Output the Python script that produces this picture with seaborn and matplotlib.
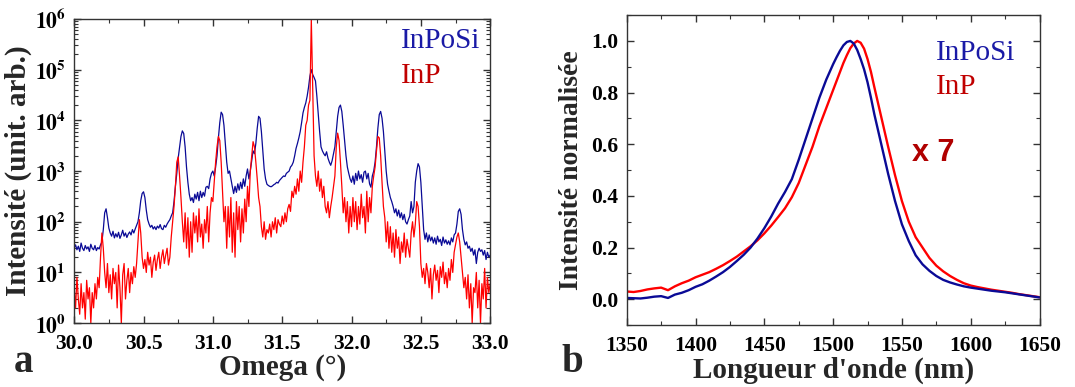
import numpy as np
import pandas as pd
import matplotlib
matplotlib.use("Agg")
import matplotlib.pyplot as plt
import seaborn as sns
from matplotlib.ticker import MultipleLocator, FixedLocator, FormatStrFormatter, LogLocator, NullFormatter

# ---------------- data : panel a (XRD omega scan, step 0.01 deg from 30.00 to 33.00) -------------
omega_start, omega_step = 30.0, 0.01

inposi_xrd = [
    30, 35, 28, 33, 26, 38, 30, 27, 34, 29,
    32, 26, 36, 30, 28, 34, 27, 31, 29, 35,
    40, 70, 150, 180, 120, 75, 60, 52, 65, 48,
    58, 50, 62, 47, 55, 68, 52, 60, 49, 57,
    63, 55, 70, 60, 72, 85, 100, 150, 260, 360,
    390, 300, 170, 110, 90, 78, 85, 72, 80, 70,
    82, 75, 88, 73, 70, 85, 78, 90, 100, 110,
    130, 150, 250, 500, 900, 1800, 3000, 4800, 6200, 5500,
    3000, 1200, 600, 350, 260, 300, 240, 350, 280, 380,
    260, 400, 300, 380, 320, 480, 500, 450, 700, 900,
    1000, 800, 1200, 2000, 4500, 9000, 14500, 13000, 8000, 3500,
    1500, 900, 1000, 700, 500, 360, 500, 380, 560, 420,
    600, 450, 700, 500, 800, 1100, 700, 1000, 1600, 2500,
    2200, 3500, 7000, 12000, 11000, 6000, 2500, 1100, 700, 550,
    520, 500, 490, 510, 540, 560, 600, 580, 650, 700,
    750, 800, 780, 900, 950, 1000, 1200, 1300, 1500, 2000,
    2800, 3500, 4500, 6000, 9000, 14000, 18000, 22000, 30000, 45000,
    75000, 100000, 80000, 70000, 60000, 30000, 13000, 6000, 3000, 2500,
    2200, 2000, 2400, 1800, 1500, 1300, 1600, 2200, 3000, 6000,
    12000, 18000, 20000, 15000, 8000, 4000, 2000, 1200, 900, 700,
    600, 800, 550, 900, 650, 1000, 700, 850, 600, 950,
    1000, 700, 900, 560, 480, 800, 1000, 1500, 3000, 7000,
    13000, 15000, 11000, 6000, 2500, 1000, 550, 400, 300, 250,
    200, 150, 180, 130, 170, 120, 150, 110, 140, 100,
    90, 110, 130, 250, 150, 200, 600, 1000, 1400, 1200,
    600, 200, 70, 45, 60, 40, 55, 42, 50, 38,
    48, 36, 52, 40, 45, 34, 50, 38, 44, 36,
    42, 35, 48, 40, 55, 60, 90, 160, 180, 140,
    70, 45, 35, 40, 30, 33, 26, 30, 22, 28,
    15, 25, 30, 26, 28, 22, 27, 18, 25, 20,
    22,
]

inp_xrd = [
    5, 2, 8, 3, 1.5, 6, 2, 4, 1.2, 7,
    3, 5, 1, 4, 2, 6, 3, 8, 5, 20,
    60, 30, 10, 5, 15, 4, 9, 3, 12, 6,
    10, 2, 14, 5, 1, 9, 15, 3, 7, 12,
    4, 10, 6, 13, 8, 15, 40, 110, 60, 20,
    12, 18, 10, 25, 14, 20, 8, 16, 22, 11,
    18, 25, 12, 20, 28, 15, 22, 30, 14, 20,
    50, 100, 200, 500, 1500, 1900, 800, 300, 100, 40,
    150, 30, 120, 20, 100, 25, 150, 60, 130, 40,
    180, 50, 90, 30, 110, 60, 200, 40, 150, 300,
    250, 600, 1500, 3000, 4800, 4000, 1500, 400, 100, 200,
    30, 200, 50, 300, 25, 150, 20, 250, 70, 200,
    40, 180, 60, 280, 100, 500, 200, 1000, 2000, 3800,
    3000, 1500, 700, 300, 200, 80, 50, 100, 45, 70,
    60, 90, 50, 100, 70, 120, 60, 110, 90, 80,
    130, 90, 150, 100, 180, 220, 160, 400, 300, 500,
    350, 700, 400, 1000, 600, 1500, 3000, 8000, 10000, 20000,
    25000, 1000000, 50000, 2000, 800, 500, 1000, 400, 700, 300,
    500, 200, 150, 250, 120, 200, 300, 500, 800, 3000,
    5600, 4000, 1500, 500, 150, 300, 100, 250, 60, 200,
    80, 300, 100, 250, 70, 200, 90, 350, 120, 200,
    60, 400, 100, 300, 150, 500, 800, 1200, 2500, 4800,
    4500, 2000, 600, 200, 120, 40, 100, 30, 80, 25,
    60, 20, 70, 30, 50, 15, 40, 25, 60, 20,
    45, 30, 20, 60, 100, 50, 90, 250, 200, 80,
    15, 8, 12, 6, 15, 10, 5, 12, 3, 9,
    14, 7, 11, 4, 13, 8, 16, 6, 10, 5,
    12, 7, 18, 10, 25, 35, 50, 60, 40, 20,
    10, 5, 8, 3, 9, 2, 6, 1, 5, 4,
    10, 2, 7, 1, 6, 3, 12, 2, 8, 4,
    6,
]

# ---------------- data : panel b (normalised PL) ------------------------------------------------
wavelength = [1350, 1355, 1360, 1365, 1370, 1375, 1380, 1385, 1390, 1395,
              1400, 1405, 1410, 1415, 1420, 1425, 1430, 1435, 1440, 1445,
              1450, 1455, 1460, 1465, 1470, 1475, 1480, 1485, 1490, 1495,
              1500, 1502.5, 1505, 1507.5, 1510, 1512.5, 1515, 1517.5, 1520, 1522.5,
              1525, 1527.5, 1530, 1535, 1540, 1545,
              1550, 1555, 1560, 1565, 1570, 1575, 1580, 1585, 1590, 1595,
              1600, 1605, 1610, 1615, 1620, 1625, 1630, 1635, 1640, 1645, 1650]

inposi_pl = [0.005, 0.004, 0.003, 0.006, 0.010, 0.012, 0.005, 0.018, 0.025, 0.035,
             0.048, 0.058, 0.072, 0.088, 0.105, 0.125, 0.148, 0.172, 0.200, 0.235,
             0.275, 0.320, 0.370, 0.415, 0.465, 0.540, 0.620, 0.700, 0.780, 0.850,
             0.910, 0.937, 0.962, 0.983, 0.996, 1.000, 0.990, 0.965, 0.930, 0.890,
             0.840, 0.780, 0.715, 0.600, 0.485, 0.380,
             0.290, 0.225, 0.170, 0.135, 0.110, 0.090, 0.075, 0.065, 0.057, 0.050,
             0.045, 0.041, 0.037, 0.033, 0.030, 0.027, 0.023, 0.019, 0.015, 0.011, 0.007]

inp_pl = [0.030, 0.028, 0.032, 0.038, 0.042, 0.045, 0.035, 0.050, 0.062, 0.072,
          0.085, 0.095, 0.105, 0.118, 0.132, 0.148, 0.165, 0.185, 0.205, 0.228,
          0.255, 0.285, 0.318, 0.352, 0.395, 0.450, 0.520, 0.590, 0.670, 0.740,
          0.810, 0.845, 0.880, 0.915, 0.945, 0.972, 0.990, 1.000, 0.993, 0.970,
          0.930, 0.880, 0.820, 0.705, 0.590, 0.480,
          0.380, 0.300, 0.240, 0.200, 0.160, 0.130, 0.108, 0.090, 0.075, 0.062,
          0.053, 0.047, 0.042, 0.037, 0.033, 0.029, 0.025, 0.020, 0.016, 0.012, 0.008]

xrd_xticks = [30.0, 30.5, 31.0, 31.5, 32.0, 32.5, 33.0]
xrd_yticks = [1, 10, 100, 1000, 10000, 100000, 1000000]
xrd_yticklabels = [r"$\mathbf{10^{%d}}$" % k for k in range(7)]
pl_xticks = [1350, 1400, 1450, 1500, 1550, 1600, 1650]
pl_yticks = [0.0, 0.2, 0.4, 0.6, 0.8, 1.0]

# ---------------- style ----------------------------------------------------------------------
sns.set_style("ticks")
plt.rcParams["font.family"] = ["Liberation Serif", "DejaVu Serif"]
plt.rcParams["mathtext.fontset"] = "stix"
plt.rcParams["axes.linewidth"] = 1.0
plt.rcParams["axes.edgecolor"] = "#333333"

BLUE = "#0a0a96"
RED = "#ff0000"
TXT_BLUE = "#1a1aa6"
TXT_RED = "#c00000"

fig = plt.figure(figsize=(10.75, 3.87), dpi=100)
ax1 = fig.add_axes([0.069, 0.165, 0.387, 0.786])
ax2 = fig.add_axes([0.583, 0.160, 0.384, 0.801])

n = len(inposi_xrd)
omega = np.round(omega_start + omega_step * np.arange(n), 2)
df_xrd = pd.DataFrame({"omega": np.concatenate([omega, omega]),
                       "I": np.concatenate([inposi_xrd, inp_xrd]),
                       "s": ["InPoSi"] * n + ["InP"] * n})
sns.lineplot(data=df_xrd[df_xrd.s == "InPoSi"], x="omega", y="I", color=BLUE, lw=0.9,
             estimator=None, sort=False, ax=ax1)
sns.lineplot(data=df_xrd[df_xrd.s == "InP"], x="omega", y="I", color=RED, lw=0.9,
             estimator=None, sort=False, ax=ax1)
ax1.set_yscale("log")
ax1.set_xlim(30.0, 33.0)
ax1.set_ylim(1, 1e6)
ax1.xaxis.set_major_locator(FixedLocator(xrd_xticks))
ax1.xaxis.set_minor_locator(MultipleLocator(0.25))
ax1.xaxis.set_major_formatter(FormatStrFormatter("%.1f"))
ax1.yaxis.set_major_locator(FixedLocator(xrd_yticks))
ax1.set_yticklabels(xrd_yticklabels)
ax1.yaxis.set_minor_locator(LogLocator(base=10, subs=np.arange(2, 10)))
ax1.yaxis.set_minor_formatter(NullFormatter())
ax1.set_xlabel("Omega (°)", fontsize=21, fontweight="bold", labelpad=0)
ax1.set_ylabel("Intensité (unit. arb.)", fontsize=21, fontweight="bold", labelpad=2)
ax1.text(0.785, 0.905, "InPoSi", transform=ax1.transAxes, color=TXT_BLUE, fontsize=21)
ax1.text(0.785, 0.79, "InP", transform=ax1.transAxes, color=TXT_RED, fontsize=21)

df_pl = pd.DataFrame({"wl": wavelength * 2, "I": inposi_pl + inp_pl,
                      "s": ["InPoSi"] * len(wavelength) + ["InP"] * len(wavelength)})
sns.lineplot(data=df_pl[df_pl.s == "InP"], x="wl", y="I", color=RED, lw=1.7,
             estimator=None, sort=False, ax=ax2)
sns.lineplot(data=df_pl[df_pl.s == "InPoSi"], x="wl", y="I", color=BLUE, lw=1.7,
             estimator=None, sort=False, ax=ax2)
ax2.set_xlim(1350, 1650)
ax2.set_ylim(-0.1, 1.1)
ax2.xaxis.set_major_locator(FixedLocator(pl_xticks))
ax2.xaxis.set_minor_locator(MultipleLocator(25))
ax2.yaxis.set_major_locator(FixedLocator(pl_yticks))
ax2.yaxis.set_minor_locator(MultipleLocator(0.1))
ax2.yaxis.set_major_formatter(FormatStrFormatter("%.1f"))
ax2.set_xlabel("Longueur d'onde (nm)", fontsize=21, fontweight="bold", labelpad=0)
ax2.set_ylabel("Intensité normalisée", fontsize=20, fontweight="bold", labelpad=5)
ax2.text(0.75, 0.855, "InPoSi", transform=ax2.transAxes, color=TXT_BLUE, fontsize=21)
ax2.text(0.75, 0.745, "InP", transform=ax2.transAxes, color=TXT_RED, fontsize=21)
ax2.text(0.69, 0.53, "x 7", transform=ax2.transAxes, color="#b00000", fontsize=22,
         fontweight="bold", family="Liberation Sans")

for ax in (ax1, ax2):
    ax.tick_params(which="both", direction="in", top=True, right=True, colors="#333333",
                   labelcolor="black")
    ax.tick_params(which="major", length=5, width=1.0, labelsize=15.5)
    ax.tick_params(which="minor", length=3, width=0.8)
    ax.tick_params(axis="x", which="major", pad=8)
    ax.tick_params(axis="y", which="major", pad=6)
    for lab in ax.get_xticklabels() + ax.get_yticklabels():
        lab.set_fontweight("bold")

fig.text(0.013, 0.04, "a", fontsize=28, fontweight="bold")
fig.text(0.522, 0.04, "b", fontsize=28, fontweight="bold")

fig.savefig("out.png", dpi=100)
